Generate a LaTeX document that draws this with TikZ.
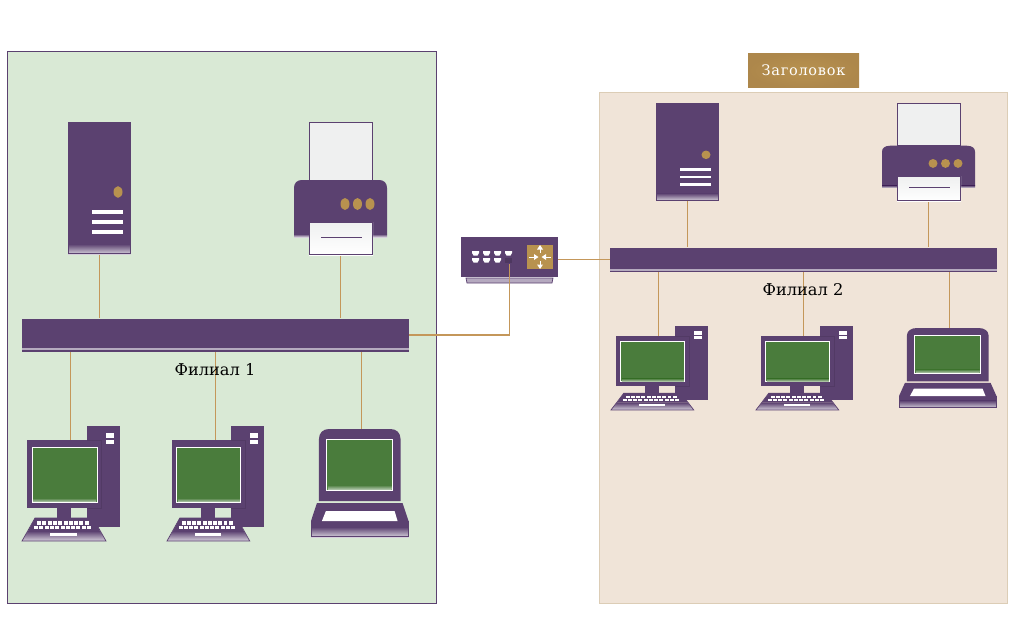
\documentclass[tikz,border=0pt]{standalone}
\usepackage{fontspec}
\setmainfont{DejaVu Serif}
\usetikzlibrary{positioning,calc}
\definecolor{plum}{HTML}{5B4170}
\definecolor{gold}{HTML}{B8924F}
\definecolor{goldedge}{HTML}{AD874B}
\definecolor{wire}{HTML}{C4975A}
\definecolor{screen}{HTML}{4A7C3C}
\definecolor{paper}{HTML}{EFF0F0}
\definecolor{branchA}{HTML}{D9E9D5}
\definecolor{branchB}{HTML}{F0E4D8}
\definecolor{branchBline}{HTML}{DCCDB6}
\tikzset{
  link/.style={draw=wire,line width=1.5pt},
  busbar/.style={fill=plum,draw=none,minimum width=387pt,inner sep=0pt},
  caption/.style={font=\fontsize{16.2}{18}\selectfont,inner sep=0pt},
  fade/.style={top color=plum,bottom color=plum!25!white},
  servericon/.pic={
    \fill[plum] (0,0) rectangle (62.5,122);
    \shade[fade] (0,122) rectangle (62.5,132);
    \draw[plum,line width=0.8pt] (0.4,0.4) rectangle (62.1,131.6);
    \fill[gold] (50,70) circle[x radius=4.5pt,y radius=5.8pt];
    \foreach \y in {88,98,108} \fill[white] (24,\y) rectangle (55,\y+3.5);
  },
  printericon/.pic={
    \filldraw[fill=paper,draw=plum,line width=1pt] (15.5,0.5) rectangle (78.5,58);
    \fill[plum] (0,112) -- (0,66) .. controls (0,61) and (3,58) .. (8,58) -- (85,58)
      .. controls (90,58) and (93,61) .. (93,66) -- (93,112) -- cycle;
    \shade[fade] (0,112) rectangle (93,115);
    \foreach \x in {51,63.5,76} \fill[gold] (\x,82) circle[x radius=4.5pt,y radius=6pt];
    \shade[top color=paper,bottom color=white] (15,100) rectangle (79,133);
    \draw[plum,line width=1pt] (15.5,100) rectangle (78.5,132.5);
    \draw[plum,line width=1pt] (27,115) -- (68,115);
  },
  pcicon/.pic={
    \fill[plum] (65,0) rectangle (98,101);
    \foreach \y/\h in {7/5,14/4} \fill[white] (84,\y) rectangle (92,\y+\h);
    \fill[plum] (35,80) rectangle (49,94);
    \fill[plum] (5,14) rectangle (79,82);
    \draw[plum!90!black,line width=0.4pt] (65,14) -- (79,14) -- (79,82) -- (65,82);
    \filldraw[fill=screen,draw=white,line width=0.9pt] (10,21) rectangle (75,76);
    \shade[top color=screen,bottom color=screen!45!white] (11,72) rectangle (74,75.5);
    \fill[plum] (13,92) -- (71,92) -- (78,105) -- (6,105) -- cycle;
    \shade[fade] (6,105) -- (78,105) -- (84,115) -- (0,115) -- cycle;
    \draw[plum,line width=0.7pt] (13,92) -- (71,92) -- (84,115) -- (0,115) -- cycle;
    \foreach \i in {0,...,9} \fill[white] (15+\i*5.3,95.3) rectangle (19+\i*5.3,98.7);
    \foreach \i in {0,...,10} \fill[white] (12+\i*5.3,100) rectangle (16+\i*5.3,103.4);
    \fill[white] (28,107) rectangle (55,110);
  },
  laptopicon/.pic={
    \fill[plum] (8,72) -- (8,10) .. controls (8,4) and (12,0) .. (18,0) -- (80,0)
      .. controls (86,0) and (90,4) .. (90,10) -- (90,72) -- cycle;
    \filldraw[fill=screen,draw=white,line width=0.9pt] (16,10) rectangle (82,61);
    \shade[top color=screen,bottom color=screen!40!white] (17,56) rectangle (81,60.5);
    \fill[plum] (6,74) -- (92,74) -- (98,92) -- (98,98) -- (0,98) -- (0,92) -- cycle;
    \shade[fade] (0,98) rectangle (98,108);
    \draw[plum,line width=0.7pt] (0.3,92) -- (0.3,107.7) -- (97.7,107.7) -- (97.7,92);
    \fill[white] (15,82) -- (84,82) -- (87,92) -- (11,92) -- cycle;
  },
}

\begin{document}
\begin{tikzpicture}[x=1pt,y=-1pt]
\useasboundingbox (0,0) rectangle (1018,632);

% Branch areas
\filldraw[fill=branchA,draw=plum,line width=0.8pt] (7.5,51.5) rectangle (436.5,603.5);
\filldraw[fill=branchB,draw=branchBline,line width=0.8pt] (599.5,92.5) rectangle (1007.5,603.5);
\node[inner color=gold,outer color=goldedge,text=white,minimum width=111pt,minimum height=34.5pt,inner sep=0pt,
  font=\fontsize{14.5}{16}\selectfont\addfontfeature{LetterSpace=5}] (title) at (803.5,70.5) {Заголовок};

% Buses
\node[busbar,minimum height=33pt] (busA) at (215.5,335) {};
\node[busbar,minimum height=24pt] (busB) at (803.5,259.5) {};
\fill[plum!45!white] (22,348) rectangle (409,350);
\fill[plum!45!white] (610,269) rectangle (997,270.5);

% Connector ends
\coordinate (srvA) at (99.5,254);
\coordinate (prnA) at (340.5,255);
\coordinate (pcAa) at (70.5,440);
\coordinate (pcAb) at (215.5,440);
\coordinate (lapA) at (361.5,429);
\coordinate (srvB) at (687.5,201);
\coordinate (prnB) at (928.5,201);
\coordinate (pcBa) at (658.5,336);
\coordinate (pcBb) at (803.5,336);
\coordinate (lapB) at (949.5,328);
\coordinate (portA) at (509.5,264);
\node[minimum width=97pt,minimum height=40pt,inner sep=0pt] (router) at (509.5,257) {};

\draw[link] (srvA) -- (srvA |- busA.north);
\draw[link] (prnA) -- (prnA |- busA.north);
\draw[link] (pcAa) -- (pcAa |- busA.south);
\draw[link] (pcAb) -- (pcAb |- busA.south);
\draw[link] (lapA) -- (lapA |- busA.south);
\draw[link] (srvB) -- (srvB |- busB.north);
\draw[link] (prnB) -- (prnB |- busB.north);
\draw[link] (pcBa) -- (pcBa |- busB.south);
\draw[link] (pcBb) -- (pcBb |- busB.south);
\draw[link] (lapB) -- (lapB |- busB.south);
\draw[link] (busB.west) -- (busB.west -| router.east);

% Devices, branch 1
\pic at (68,122) {servericon};
\pic at (294,122) {printericon};
\pic at (22,426) {pcicon};
\pic[xscale=0.985] at (167,426) {pcicon};
\pic[xscale=0.995] at (311,429) {laptopicon};

% Devices, branch 2
\pic[yscale=0.74] at (656,103) {servericon};
\pic[yscale=0.737] at (882,103) {printericon};
\pic[xscale=0.985,yscale=0.73] at (611,326) {pcicon};
\pic[xscale=0.985,yscale=0.73] at (756,326) {pcicon};
\pic[xscale=0.995,yscale=0.74] at (899,328) {laptopicon};

% Router
\fill[plum] (router.north west) rectangle (router.south east);
\filldraw[fill=plum!45!white,draw=plum,line width=0.7pt] (466,278) -- (553,278) -- (552,283) -- (467,283) -- cycle;
\foreach \x in {472,483,494,505}
  \fill[white] (\x,251) -- (\x+7,251) -- (\x+7,253) -- (\x+5.5,255.5) -- (\x+1.5,255.5) -- (\x,253) -- cycle;
\foreach \x in {472,483,494}
  \fill[white] (\x,258) -- (\x+7,258) -- (\x+7,260) -- (\x+5.5,262.5) -- (\x+1.5,262.5) -- (\x,260) -- cycle;
\fill[plum!85!black] (505,258) rectangle (512,262.5);
\fill[gold] (527,245) rectangle (553,269);
\draw[white,line width=1pt] (540,247) -- (540,253) (540,261) -- (540,267) (529,257) -- (536,257) (544,257) -- (551,257);
\fill[white] (540,245) -- (537,249.5) -- (543,249.5) -- cycle
  (540,269) -- (537,264.5) -- (543,264.5) -- cycle
  (538.5,257) -- (534,254) -- (534,260) -- cycle
  (541.5,257) -- (546,254) -- (546,260) -- cycle;
\draw[link] (portA) |- (busA.east);

% Branch names
\node[caption] (nameA) at (215,369.5) {Филиал 1};
\node[caption] (nameB) at (803,289.5) {Филиал 2};
\end{tikzpicture}
\end{document}
